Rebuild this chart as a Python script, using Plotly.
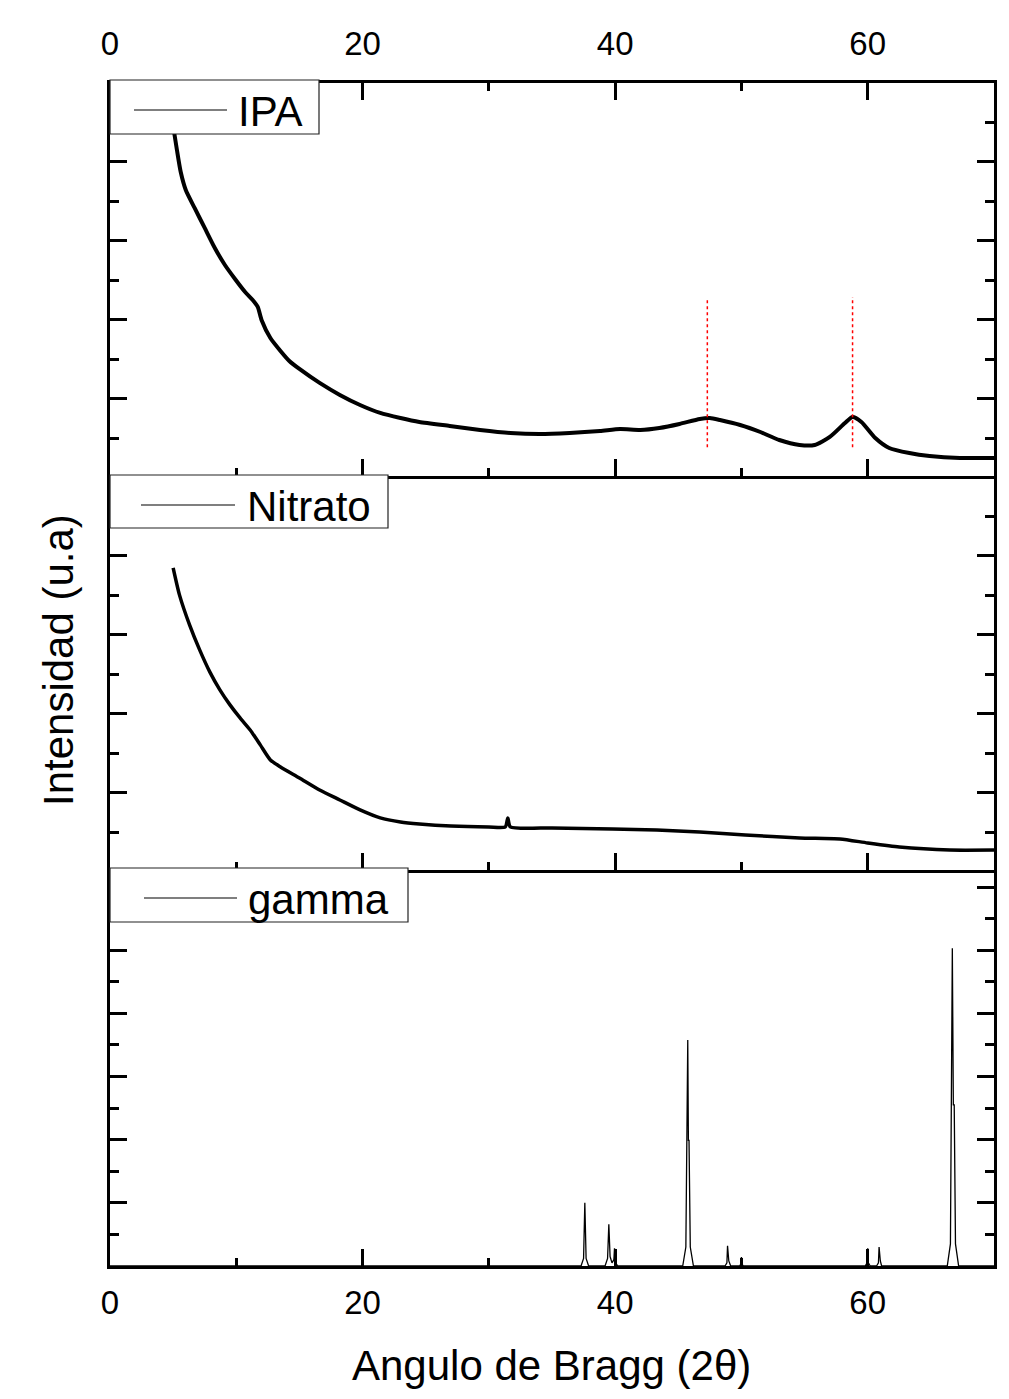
import plotly.graph_objects as go

# ---------------- data ----------------
ipa_x = [5.0, 5.3, 5.6, 6.0, 6.7, 7.5, 8.3, 9.1, 9.9, 10.7, 11.3, 11.7, 12.0, 12.7, 13.5,
         14.2, 15.0, 16.6, 18.2, 19.8, 21.4, 23.0, 24.5, 26.9, 29.3, 31.7, 34.0, 36.4,
         38.8, 40.4, 42.0, 43.5, 45.1, 46.7, 47.5, 48.3, 49.9, 51.5, 53.0, 54.6, 55.8,
         57.0, 58.2, 58.8, 59.5, 60.6, 61.7, 63.3, 64.9, 67.3, 70.0]
ipa_y = [3.456, 3.152, 2.873, 2.646, 2.418, 2.165, 1.911, 1.696, 1.519, 1.354, 1.253,
         1.165, 1.0, 0.772, 0.608, 0.481, 0.380, 0.203, 0.051, -0.076, -0.177, -0.241,
         -0.291, -0.342, -0.392, -0.430, -0.443, -0.430, -0.405, -0.380, -0.392, -0.367,
         -0.316, -0.253, -0.241, -0.266, -0.329, -0.418, -0.519, -0.582, -0.582, -0.481,
         -0.304, -0.228, -0.291, -0.494, -0.620, -0.684, -0.722, -0.747, -0.747]

nit_x = [5.0, 5.5, 6.3, 7.1, 7.9, 8.7, 9.5, 10.3, 11.1, 11.9, 12.7, 13.5, 15.0, 16.6,
         18.2, 19.8, 21.4, 23.0, 24.5, 27.0, 30.0, 31.3, 31.5, 31.7, 35.0, 39.8, 43.3,
         46.7, 50.3, 54.6, 57.8, 60.0, 62.5, 66.5, 70.0]
nit_y = [2.848, 2.506, 2.127, 1.810, 1.532, 1.304, 1.114, 0.949, 0.797, 0.608, 0.418,
         0.329, 0.190, 0.038, -0.089, -0.215, -0.316, -0.367, -0.392, -0.418, -0.430,
         -0.430, -0.316, -0.430, -0.443, -0.456, -0.468, -0.494, -0.532, -0.570, -0.582,
         -0.633, -0.684, -0.722, -0.722]

gam_x = [0.0, 37.3, 37.5, 37.6, 37.7, 37.9,
         39.2, 39.4, 39.5, 39.6, 39.75, 39.9, 39.95, 40.05, 40.2,
         45.35, 45.6, 45.75, 45.8, 45.85, 45.95, 46.2,
         48.7, 48.85, 48.9, 49.0, 49.15,
         49.85, 49.95, 50.0, 50.05, 50.15,
         59.8, 59.95, 60.0, 60.05, 60.2,
         60.7, 60.85, 60.9, 61.0, 61.1,
         66.3, 66.55, 66.7, 66.78, 66.85, 66.95, 67.2, 70.0]
gam_y = [0.0, 0.0, 0.12, 1.0, 0.12, 0.0,
         0.0, 0.12, 0.66, 0.15, 0.05, 0.1, 0.28, 0.05, 0.0,
         0.0, 0.3, 3.58, 1.99, 1.99, 0.3, 0.0,
         0.0, 0.05, 0.32, 0.08, 0.0,
         0.0, 0.03, 0.14, 0.03, 0.0,
         0.0, 0.05, 0.28, 0.05, 0.0,
         0.0, 0.05, 0.30, 0.08, 0.0,
         0.0, 0.35, 5.03, 2.55, 2.55, 0.35, 0.0, 0.0]

ref_x = [47.3, 58.8]
ref_ymin = [-0.61, -0.61]
ref_ymax = [1.25, 1.29]

x_ticks = [0, 20, 40, 60]
labels = ["IPA", "Nitrato", "gamma"]

# ---------------- figure ----------------
FONT = "Liberation Sans, Arial, sans-serif"
OFF = 8                      # browser body margin
W, H = 1009 - OFF, 1399 - OFF
PL, PR, PT, PB = 110, 994, 83, 1266   # plot area in page pixels
L, T = PL - OFF, PT - OFF
R = W + OFF - PR
B = H + OFF - PB


def py(p):
    return (PB - p) / (PB - PT)


def px(p):
    return (p - PL) / (PR - PL)


fig = go.Figure()
fig.add_trace(go.Scatter(x=ipa_x, y=ipa_y, mode="lines",
                         line=dict(color="black", width=4, shape="spline", smoothing=0.6),
                         xaxis="x3", yaxis="y3", showlegend=False))
for i in range(len(ref_x)):
    fig.add_trace(go.Scatter(x=[ref_x[i], ref_x[i]], y=[ref_ymin[i], ref_ymax[i]], mode="lines",
                             line=dict(color="red", width=1.5, dash="dot"),
                             xaxis="x3", yaxis="y3", showlegend=False))
fig.add_trace(go.Scatter(x=nit_x, y=nit_y, mode="lines",
                         line=dict(color="black", width=3.5, shape="spline", smoothing=0.6),
                         xaxis="x2", yaxis="y2", showlegend=False))
fig.add_trace(go.Scatter(x=gam_x, y=gam_y, mode="lines", line=dict(color="black", width=1.3),
                         xaxis="x", yaxis="y", showlegend=False))

d_bot = [0, py(870)]
d_mid = [py(870), py(476)]
d_top = [py(476), 1]

common_x = dict(range=[0, 70], tickvals=x_ticks, ticks="inside", ticklen=17, tickwidth=3,
                linewidth=3, linecolor="black", showgrid=False, zeroline=False,
                minor=dict(dtick=10, tick0=0, ticks="inside", ticklen=8, tickwidth=3, tickcolor="black"),
                tickcolor="black", tickfont=dict(family=FONT, size=33, color="black"))
common_y = dict(ticks="inside", ticklen=17, tickwidth=3, dtick=1, tick0=0,
                linewidth=3, linecolor="black", showgrid=False, zeroline=False,
                showticklabels=False, mirror="ticks", tickcolor="black",
                minor=dict(dtick=0.5, ticks="inside", ticklen=9, tickwidth=3, tickcolor="black"))

fig.update_layout(
    width=W, height=H,
    margin=dict(l=L, r=R, t=T, b=B),
    paper_bgcolor="white", plot_bgcolor="white",
    xaxis=dict(**common_x, anchor="y", showticklabels=True, mirror=False, ticklabelstandoff=5),
    xaxis2=dict(**common_x, anchor="y2", matches="x", showticklabels=False, mirror=False),
    xaxis3=dict(**common_x, anchor="y3", matches="x", side="top", showticklabels=True,
                mirror="ticks", ticklabelstandoff=12),
    yaxis=dict(**common_y, domain=d_bot, range=[0, 6.27], anchor="x"),
    yaxis2=dict(**common_y, domain=d_mid, range=[-0.975, 4.01], anchor="x2"),
    yaxis3=dict(**common_y, domain=d_top, range=[-0.975, 4.0], anchor="x3"),
)

# legend boxes (shapes + annotations)
boxes = [
    # (x0,x1,y_top,y_bot, line x0,x1, line y, text x)
    (110, 319, 80, 134, 134, 227, 110, 236),
    (110, 388, 475, 528, 141, 235, 505, 245),
    (110, 408, 868, 922, 144, 237, 898, 246),
]
for (bx0, bx1, byt, byb, lx0, lx1, ly, tx), lab in zip(boxes, labels):
    fig.add_shape(type="rect", xref="paper", yref="paper", x0=px(bx0), x1=px(bx1),
                  y0=py(byb), y1=py(byt), line=dict(color="#222", width=1.2),
                  fillcolor="white", layer="above")
    fig.add_shape(type="line", xref="paper", yref="paper", x0=px(lx0), x1=px(lx1),
                  y0=py(ly), y1=py(ly), line=dict(color="black", width=1.2), layer="above")
    fig.add_annotation(xref="paper", yref="paper", x=px(tx), y=py(ly + 1), text=lab,
                       showarrow=False, xanchor="left", yanchor="middle",
                       font=dict(family=FONT, size=42, color="black"))

fig.add_annotation(xref="paper", yref="paper", x=px(551), y=py(1365),
                   text="Angulo de Bragg (2θ)", showarrow=False,
                   xanchor="center", yanchor="middle",
                   font=dict(family=FONT, size=42, color="black"))
fig.add_annotation(xref="paper", yref="paper", x=px(58), y=py(660),
                   text="Intensidad (u.a)", showarrow=False, textangle=-90,
                   xanchor="center", yanchor="middle",
                   font=dict(family=FONT, size=42, color="black"))

fig.write_html("out.html")
